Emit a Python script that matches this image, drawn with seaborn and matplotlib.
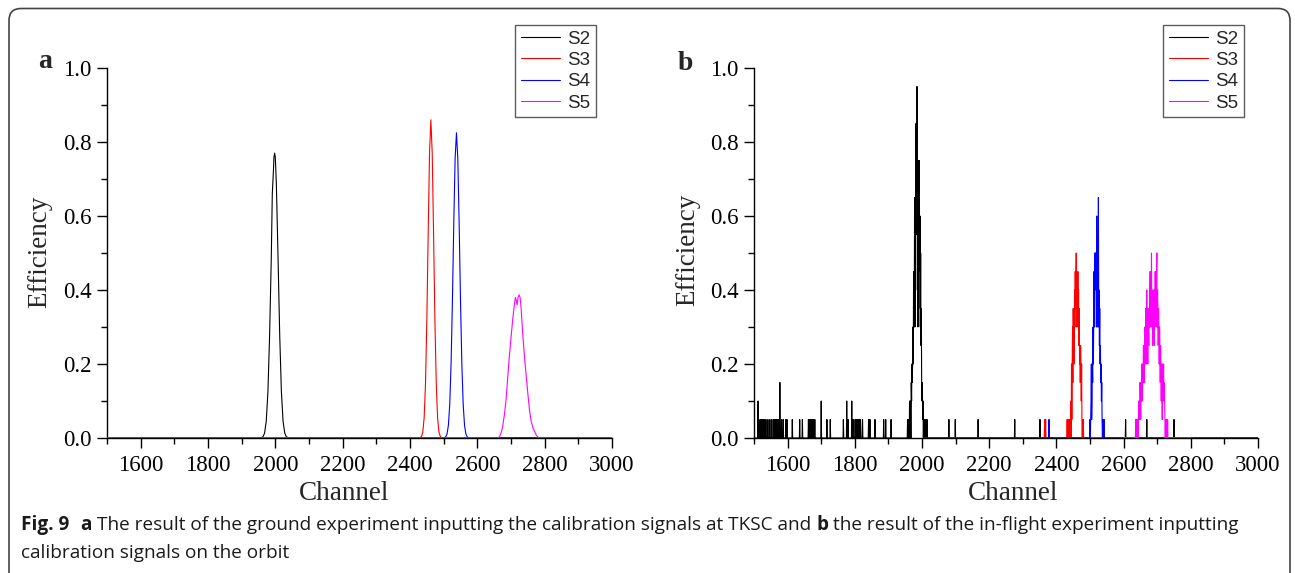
import numpy as np
import pandas as pd
import matplotlib
matplotlib.use("Agg")
import matplotlib.pyplot as plt
import seaborn as sns
from matplotlib.patches import FancyBboxPatch
from matplotlib.ticker import MultipleLocator, FormatStrFormatter
from matplotlib.transforms import IdentityTransform
from matplotlib.lines import Line2D

# ---------------- data ----------------
series_names = ["S2", "S3", "S4", "S5"]
series_colors = ["#000000", "#FF0000", "#0000FF", "#FF00FF"]
x_ticks = [1600, 1800, 2000, 2200, 2400, 2600, 2800, 3000]
y_ticks = [0.0, 0.2, 0.4, 0.6, 0.8, 1.0]

# Panel a (ground experiment) - smooth peaks, zero elsewhere
a_s2_ch = [1500, 1953, 1958, 1963, 1968, 1973, 1978, 1983, 1988, 1991, 1994, 1996, 1998,
           2000, 2003, 2008, 2013, 2018, 2023, 2028, 2033, 2038, 2043, 3000]
a_s2_val = [0, 0, 0.001, 0.003, 0.013, 0.045, 0.125, 0.278, 0.489, 0.66, 0.716, 0.76, 0.77,
            0.757, 0.688, 0.489, 0.278, 0.125, 0.045, 0.013, 0.003, 0.001, 0, 0]

a_s3_ch = [1500, 2426, 2430, 2434, 2438, 2442, 2446, 2450, 2454, 2458, 2462, 2466, 2470,
           2474, 2478, 2482, 2486, 2490, 2494, 2498, 3000]
a_s3_val = [0, 0, 0.001, 0.004, 0.016, 0.054, 0.146, 0.317, 0.552, 0.770, 0.86, 0.770, 0.552,
            0.317, 0.146, 0.054, 0.016, 0.004, 0.001, 0, 0]

a_s4_ch = [1500, 2502, 2506, 2510, 2514, 2518, 2522, 2526, 2530, 2534, 2538, 2542, 2546,
           2550, 2554, 2558, 2562, 2566, 2570, 2574, 3000]
a_s4_val = [0, 0, 0.003, 0.011, 0.034, 0.090, 0.200, 0.371, 0.579, 0.755, 0.825, 0.755, 0.579,
            0.371, 0.200, 0.090, 0.034, 0.011, 0.003, 0, 0]

a_s5_ch = [1500, 2662, 2666, 2670, 2675, 2680, 2685, 2690, 2695, 2700, 2705, 2710, 2713, 2716,
           2718, 2721, 2724, 2727, 2730, 2735, 2740, 2745, 2750, 2755, 2760, 2765, 2770,
           2775, 2780, 2785, 3000]
a_s5_val = [0, 0, 0.004, 0.012, 0.03, 0.06, 0.10, 0.16, 0.22, 0.27, 0.32, 0.36, 0.38, 0.37,
            0.36, 0.38, 0.387, 0.38, 0.35, 0.28, 0.22, 0.17, 0.12, 0.075, 0.045, 0.028, 0.018,
            0.008, 0.002, 0, 0]

# Panel b (in-flight experiment) - nonzero channels only, all other channels are 0
b_channels = (1500, 3000)
b_s2_ch = [1512, 1518, 1522, 1526, 1530, 1533, 1539, 1545, 1551, 1557, 1561, 1565, 1569, 1573,
           1577, 1582, 1587, 1595, 1598, 1614, 1636, 1644, 1662, 1665, 1669, 1673, 1677, 1681,
           1700, 1717, 1727, 1766, 1776, 1780, 1791, 1795, 1801, 1805, 1809, 1813, 1817, 1823,
           1841, 1845, 1860, 1886, 1892, 1908,
           1957, 1960, 1963, 1965, 1966, 1968, 1969, 1970, 1971, 1972, 1973, 1974, 1975, 1976,
           1977, 1978, 1979, 1980, 1981, 1982, 1983, 1984, 1985, 1986, 1987, 1988, 1989, 1990,
           1991, 1992, 1993, 1994, 1995, 1996, 1997, 1998, 1999, 2000, 2001, 2002, 2003, 2005,
           2008, 2010, 2012, 2015,
           2080, 2099, 2167, 2276, 2351, 2606, 2639, 2643, 2669, 2750]
b_s2_val = [0.10, 0.05, 0.05, 0.05, 0.05, 0.05, 0.05, 0.05, 0.05, 0.05, 0.05, 0.05, 0.05, 0.05,
            0.15, 0.05, 0.05, 0.05, 0.05, 0.05, 0.05, 0.05, 0.05, 0.05, 0.05, 0.05, 0.05, 0.05,
            0.10, 0.05, 0.05, 0.05, 0.10, 0.05, 0.10, 0.05, 0.05, 0.05, 0.05, 0.05, 0.05, 0.05,
            0.05, 0.05, 0.05, 0.05, 0.05, 0.05,
            0.05, 0.05, 0.10, 0.05, 0.10, 0.15, 0.10, 0.20, 0.15, 0.20, 0.30, 0.20, 0.45, 0.30,
            0.35, 0.65, 0.30, 0.65, 0.40, 0.85, 0.55, 0.65, 0.95, 0.55, 0.70, 0.30, 0.75, 0.35,
            0.60, 0.75, 0.45, 0.60, 0.30, 0.50, 0.25, 0.35, 0.15, 0.10, 0.15, 0.05, 0.10, 0.05,
            0.05, 0.05, 0.05, 0.05,
            0.05, 0.05, 0.05, 0.05, 0.05, 0.05, 0.05, 0.05, 0.05, 0.05]

b_s3_ch = [2365, 2368, 2432, 2435, 2438, 2441, 2443, 2445, 2446, 2447, 2448, 2449, 2450, 2451,
           2452, 2453, 2454, 2455, 2456, 2457, 2458, 2459, 2460, 2461, 2462, 2463, 2464, 2465,
           2466, 2467, 2468, 2469, 2470, 2471, 2472, 2473, 2474, 2475, 2476, 2478, 2480]
b_s3_val = [0.05, 0.05, 0.05, 0.05, 0.05, 0.05, 0.10, 0.20, 0.05, 0.20, 0.30, 0.15, 0.35, 0.25,
            0.35, 0.20, 0.40, 0.30, 0.45, 0.35, 0.45, 0.50, 0.40, 0.30, 0.40, 0.35, 0.45, 0.30,
            0.40, 0.25, 0.35, 0.20, 0.25, 0.15, 0.25, 0.20, 0.10, 0.20, 0.05, 0.05, 0.05]

b_s4_ch = [2378, 2500, 2502, 2503, 2504, 2505, 2506, 2507, 2508, 2509, 2510, 2511, 2512, 2513,
           2514, 2515, 2516, 2517, 2518, 2519, 2520, 2521, 2522, 2523, 2524, 2525, 2526, 2527,
           2528, 2529, 2530, 2531, 2532, 2533, 2534, 2535, 2536, 2538, 2540, 2542]
b_s4_val = [0.05, 0.05, 0.05, 0.10, 0.20, 0.05, 0.10, 0.20, 0.15, 0.30, 0.20, 0.30, 0.45, 0.30,
            0.50, 0.40, 0.50, 0.45, 0.50, 0.30, 0.60, 0.45, 0.30, 0.50, 0.40, 0.65, 0.30, 0.40,
            0.25, 0.35, 0.20, 0.25, 0.15, 0.20, 0.10, 0.15, 0.05, 0.05, 0.05, 0.05]

b_s5_ch = [2636, 2638, 2640, 2642, 2644, 2645, 2646, 2647, 2648, 2649, 2650, 2651, 2652, 2653,
           2654, 2655, 2656, 2657, 2658, 2659, 2660, 2661, 2662, 2663, 2664, 2665, 2666, 2667,
           2668, 2669, 2670, 2671, 2672, 2673, 2674, 2675, 2676, 2677, 2678, 2679, 2680, 2681,
           2682, 2683, 2684, 2685, 2686, 2687, 2688, 2689, 2690, 2691, 2692, 2693, 2694, 2695,
           2696, 2697, 2698, 2699, 2700, 2701, 2702, 2703, 2704, 2705, 2706, 2707, 2708, 2709,
           2710, 2711, 2712, 2713, 2714, 2715, 2716, 2717, 2718, 2719, 2720, 2721, 2722, 2723,
           2725, 2727, 2729, 2731]
b_s5_val = [0.05, 0.05, 0.05, 0.05, 0.05, 0.10, 0.05, 0.10, 0.05, 0.15, 0.10, 0.05, 0.15, 0.10,
            0.20, 0.15, 0.10, 0.20, 0.15, 0.25, 0.20, 0.25, 0.15, 0.30, 0.20, 0.25, 0.35, 0.20,
            0.30, 0.40, 0.25, 0.30, 0.20, 0.35, 0.30, 0.25, 0.35, 0.30, 0.40, 0.45, 0.30, 0.40,
            0.35, 0.50, 0.30, 0.40, 0.25, 0.35, 0.30, 0.40, 0.35, 0.25, 0.40, 0.30, 0.45, 0.35,
            0.40, 0.30, 0.45, 0.50, 0.30, 0.40, 0.35, 0.25, 0.35, 0.30, 0.20, 0.30, 0.25, 0.15,
            0.25, 0.20, 0.10, 0.20, 0.15, 0.05, 0.20, 0.10, 0.15, 0.20, 0.10, 0.15, 0.10, 0.05,
            0.05, 0.05, 0.05, 0.05]

# channel ranges each panel-b series is recorded over
b_spans = {"S2": (1500, 3000), "S3": (2005, 3000), "S4": (2005, 3000), "S5": (2600, 2800)}

caption1 = [("Fig. 9", "bold"), ("a", "bold"),
            ("The result of the ground experiment inputting the calibration signals at TKSC and", "normal"),
            ("b", "bold"),
            ("the result of the in-flight experiment inputting", "normal")]
caption2 = "calibration signals on the orbit"

# ---------------- figure ----------------
sns.set_theme(style="white")
plt.rcParams["font.family"] = ["Liberation Serif", "DejaVu Serif"]

W, H = 1295, 573
fig = plt.figure(figsize=(W / 100, H / 100), dpi=100)
fig.patch.set_facecolor("white")

def fx(px):
    return px / W

def fy(py):
    return 1 - py / H

ax_a = fig.add_axes([fx(107), fy(438), fx(612) - fx(107), fy(68) - fy(438)])
ax_b = fig.add_axes([fx(754), fy(438), fx(1258) - fx(754), fy(68) - fy(438)])

a_data = [(a_s2_ch, a_s2_val), (a_s3_ch, a_s3_val), (a_s4_ch, a_s4_val), (a_s5_ch, a_s5_val)]
for i, (name, col) in enumerate(zip(series_names, series_colors)):
    ch, val = a_data[i]
    df = pd.DataFrame({"Channel": ch, "Efficiency": val})
    sns.lineplot(data=df, x="Channel", y="Efficiency", ax=ax_a, color=col, lw=0.8,
                 estimator=None, zorder=2 + i, legend=False)

b_data = [(b_s2_ch, b_s2_val), (b_s3_ch, b_s3_val), (b_s4_ch, b_s4_val), (b_s5_ch, b_s5_val)]
for i, (name, col) in enumerate(zip(series_names, series_colors)):
    lo, hi = b_spans[name]
    ch = np.arange(lo, hi + 1)
    vals = np.zeros(len(ch))
    for c, v in zip(*b_data[i]):
        if lo <= c <= hi:
            vals[c - lo] = v
    df = pd.DataFrame({"Channel": ch, "Efficiency": vals})
    sns.lineplot(data=df, x="Channel", y="Efficiency", ax=ax_b, color=col, lw=0.8,
                 estimator=None, zorder=2 + i, legend=False)

for ax in (ax_a, ax_b):
    ax.set_xlim(b_channels[0], b_channels[1])
    ax.set_ylim(0, 1.0)
    ax.set_xticks(x_ticks)
    ax.set_yticks(y_ticks)
    ax.xaxis.set_minor_locator(MultipleLocator(100))
    ax.yaxis.set_minor_locator(MultipleLocator(0.1))
    ax.yaxis.set_major_formatter(FormatStrFormatter("%.1f"))
    ax.xaxis.set_major_formatter(FormatStrFormatter("%d"))
    ax.tick_params(which="both", direction="out", bottom=True, left=True, top=False,
                   right=False, color="black", width=1)
    ax.tick_params(which="major", length=7, labelsize=16.5, labelcolor="black")
    ax.tick_params(axis="x", which="major", pad=5)
    ax.tick_params(axis="y", which="major", pad=4)
    ax.tick_params(which="minor", length=4)
    for s in ("top", "right"):
        ax.spines[s].set_visible(False)
    for s in ("left", "bottom"):
        ax.spines[s].set_color("black")
        ax.spines[s].set_linewidth(1)
    ax.set_xlabel("")
    ax.set_ylabel("")
    ax.set_facecolor("none")
    ax.grid(False)

# axis labels
fig.text(fx(40), fy(252), "Efficiency", rotation=90, ha="center", va="center", fontsize=19.5)
fig.text(fx(688), fy(250), "Efficiency", rotation=90, ha="center", va="center", fontsize=19.5)
fig.text(fx(344), fy(494), "Channel", ha="center", va="center", fontsize=19.5)
fig.text(fx(1013), fy(494), "Channel", ha="center", va="center", fontsize=19.5)
fig.text(fx(45), fy(61), "a", ha="center", va="center", fontsize=20, fontweight="bold")
fig.text(fx(685), fy(63), "b", ha="center", va="center", fontsize=20, fontweight="bold")

# legends
for ax, lx in ((ax_a, 515), (ax_b, 1163)):
    hs = [Line2D([], [], color=c, lw=0.8) for c in series_colors]
    leg = ax.legend(hs, series_names, loc="upper left", bbox_to_anchor=(fx(lx), fy(25)),
                    bbox_transform=fig.transFigure, frameon=True, fancybox=False,
                    borderaxespad=0, borderpad=0.3, labelspacing=0.22, handlelength=2.1,
                    handletextpad=0.4, prop={"family": ["Liberation Sans", "DejaVu Sans"],
                                             "size": 13.5})
    leg.get_frame().set_edgecolor("#333333")
    leg.get_frame().set_linewidth(1)
    leg.set_zorder(10)

# outer rounded frame
frame = FancyBboxPatch((9, -40), 1281, (H - 8.5) + 40, boxstyle="round,pad=0,rounding_size=12",
                       fill=False, edgecolor="#444444", lw=1.2, transform=IdentityTransform())
fig.patches.append(frame)

# caption
cap_font = ["Open Sans", "DejaVu Sans"]
cap_size = 13.65
fig.canvas.draw()
renderer = fig.canvas.get_renderer()
x = 21
y1 = H - 525
gap = 0.28 * cap_size * 100 / 72
for i, (txt, wt) in enumerate(caption1):
    t = fig.text(x, y1, txt, transform=IdentityTransform(), ha="left", va="center",
                 fontsize=cap_size, fontweight=wt, family=cap_font, color="#1a1a1a")
    bb = t.get_window_extent(renderer)
    x = bb.x1 + (gap * 2.0 if i == 0 else gap)
fig.text(21, H - 553, caption2, transform=IdentityTransform(), ha="left", va="center",
         fontsize=cap_size, family=cap_font, color="#1a1a1a")

fig.savefig("out.png", dpi=100, facecolor="white")
